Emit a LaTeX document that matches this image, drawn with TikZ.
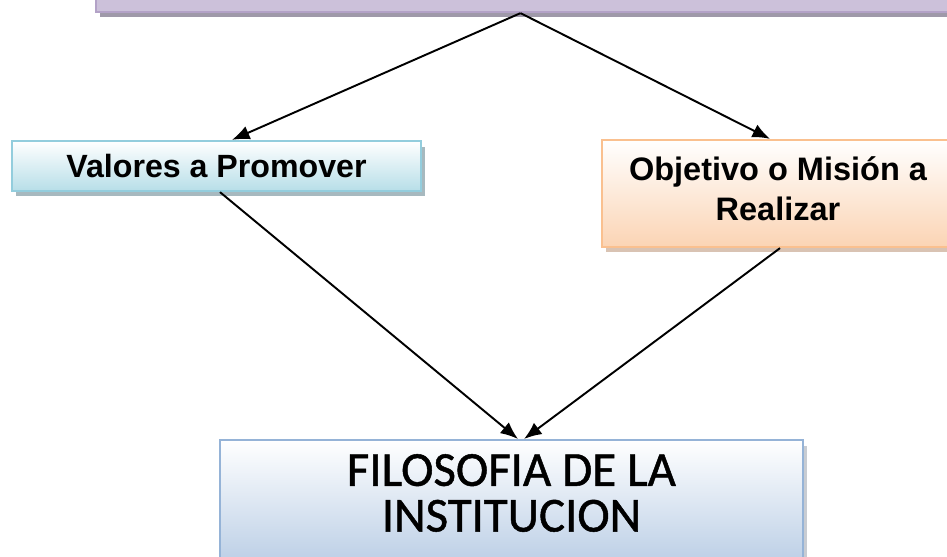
\documentclass[tikz,border=0pt]{standalone}
\usepackage{fontspec}
\setmainfont{Liberation Sans}
\newfontfamily\carlito[FakeBold=1]{Carlito}
\usetikzlibrary{arrows.meta, shadows}
\definecolor{lilaborde}{HTML}{B3A2C7}
\definecolor{lilafondo}{HTML}{CCC1DA}
\definecolor{lilasombra}{HTML}{9F99A9}
\definecolor{celesteborde}{HTML}{93CDDD}
\definecolor{celestefondo}{HTML}{B7DEE8}
\definecolor{celestesombra}{HTML}{A7B9BF}
\definecolor{naranjaborde}{HTML}{FAC08F}
\definecolor{naranjafondo}{HTML}{FBD4B4}
\definecolor{naranjasombra}{HTML}{D9C3B3}
\definecolor{azulborde}{HTML}{95B3D7}
\definecolor{azulfondo}{HTML}{B9CDE5}
\definecolor{azulsombra}{HTML}{C8CCD2}

\begin{document}
\begin{tikzpicture}[x=0.02cm, y=-0.02cm,
	caja/.style={rectangle, line width=1.3pt, inner sep=0pt, align=center},
	sombra/.style={drop shadow={shadow xshift=0.08cm, shadow yshift=-0.11cm, fill=#1, opacity=1}},
	flecha/.style={-{Latex[length=10pt, width=8pt]}, line width=1.1pt, black}]
	\useasboundingbox (0, 0) rectangle (947, 557);
	\clip (0, 0) rectangle (947, 557);
	\node[caja, sombra=lilasombra, draw=lilaborde, fill=lilafondo, minimum width=17.28cm, minimum height=1.04cm] (cima) at (528, -14) {};
	\node[caja, sombra=celestesombra, draw=celesteborde, top color=white, bottom color=celestefondo, minimum width=8.18cm, minimum height=1cm, font=\bfseries\fontsize{18.3}{22}\selectfont] (valores) at (216.5, 166) {Valores a Promover};
	\node[caja, sombra=naranjasombra, draw=naranjaborde, top color=white, bottom color=naranjafondo, minimum width=7.04cm, minimum height=2.14cm, font=\bfseries\fontsize{18.5}{22.8}\selectfont] (objetivo) at (778, 193.5) {Objetivo o Misión a\\Realizar\rule[-0.2cm]{0pt}{0pt}};
	\node[caja, sombra=azulsombra, draw=azulborde, top color=white, bottom color=azulfondo, minimum width=11.66cm, anchor=north, inner ysep=0.28cm, font=\carlito\fontsize{27.8}{26}\selectfont] (filosofia) at (511.5, 439) {FILOSOFIA DE LA\\INSTITUCION\rule[-0.45cm]{0pt}{0pt}};
	\draw[flecha] ([xshift=-0.15cm]cima.south) -- ([xshift=0.31cm]valores.north);
	\draw[flecha] ([xshift=-0.15cm]cima.south) -- ([xshift=-0.16cm]objetivo.north);
	\draw[flecha] ([xshift=0.07cm]valores.south) -- ([xshift=0.13cm]filosofia.north);
	\draw[flecha] ([xshift=0.04cm]objetivo.south) -- ([xshift=0.25cm]filosofia.north);
\end{tikzpicture}
\end{document}
